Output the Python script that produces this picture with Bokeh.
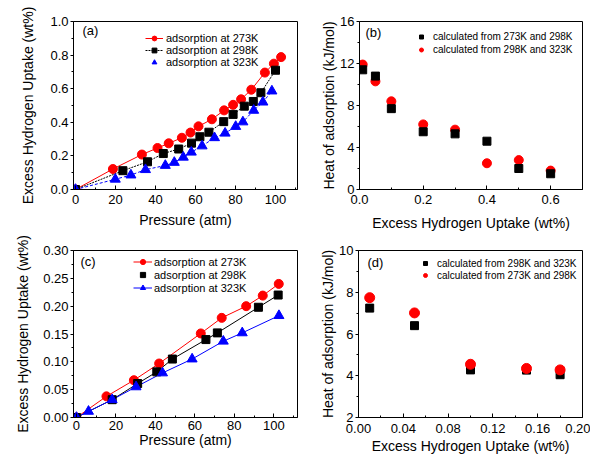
from bokeh.plotting import figure
from bokeh.models import Range1d, FixedTicker, Legend, LegendItem, Label, PrintfTickFormatter
from bokeh.layouts import column, row
from bokeh.embed import file_html
from bokeh.resources import INLINE

FONT = "Liberation Sans"
RED = "#ff0000"
BLUE = "#0000ff"

# ---------------- data ----------------
# (a) isotherms, sample 1
a_p273 = [0, 18.7, 33.2, 41.0, 46.6, 53.2, 57.5, 61.5, 68.2, 74.3, 78.8, 82.8, 87.9, 94.7, 99.2, 102.8]
a_u273 = [0, 0.122, 0.208, 0.247, 0.275, 0.308, 0.339, 0.376, 0.418, 0.471, 0.504, 0.537, 0.594, 0.696, 0.749, 0.788]
a_p298 = [0, 23.7, 36.0, 43.9, 51.6, 58.0, 62.2, 66.7, 74.1, 78.8, 84.4, 88.9, 92.7, 100.0]
a_u298 = [0, 0.112, 0.165, 0.214, 0.241, 0.276, 0.314, 0.341, 0.404, 0.447, 0.496, 0.524, 0.576, 0.710]
a_p323 = [0, 19.9, 27.7, 35.0, 44.9, 49.4, 53.9, 57.9, 63.3, 69.5, 74.8, 80.1, 83.7, 89.1, 93.7, 98.2]
a_u323 = [0, 0.061, 0.086, 0.118, 0.143, 0.161, 0.192, 0.222, 0.259, 0.308, 0.335, 0.375, 0.402, 0.471, 0.520, 0.586]

# (b) heat of adsorption, sample 1
b_uptake = [0.01, 0.05, 0.10, 0.20, 0.30, 0.40, 0.50, 0.60]
b_q_273_298 = [11.4, 10.8, 7.7, 5.5, 5.3, 4.6, 2.0, 1.5]
b_q_298_323 = [11.9, 10.3, 8.4, 6.2, 5.7, 2.5, 2.8, 1.8]

# (c) isotherms, sample 2
c_p273 = [0, 15.2, 29.1, 41.9, 63.0, 73.6, 86.0, 94.4, 102.5]
c_u273 = [0, 0.038, 0.067, 0.097, 0.151, 0.179, 0.200, 0.219, 0.240]
c_p298 = [0, 18.1, 31.0, 40.7, 48.6, 65.6, 71.4, 92.2, 102.2]
c_u298 = [0, 0.032, 0.061, 0.082, 0.105, 0.140, 0.152, 0.198, 0.220]
c_p323 = [0, 6.1, 18.1, 30.2, 43.6, 58.6, 74.4, 84.0, 102.6]
c_u323 = [0, 0.011, 0.032, 0.055, 0.080, 0.105, 0.137, 0.152, 0.183]

# (d) heat of adsorption, sample 2
d_uptake = [0.01, 0.05, 0.10, 0.15, 0.18]
d_q_298_323 = [7.24, 6.40, 4.28, 4.27, 4.05]
d_q_273_298 = [7.74, 7.01, 4.55, 4.35, 4.28]

iso_labels = ["adsorption at 273K", "adsorption at 298K", "adsorption at 323K"]
lab_273_298 = "calculated from 273K and 298K"
lab_298_323 = "calculated from 298K and 323K"
x_iso = "Pressure (atm)"
y_iso = "Excess Hydrogen Uptake (wt%)"
x_heat = "Excess Hydrogen Uptake (wt%)"
y_heat = "Heat of adsorption (kJ/mol)"


def make_fig(width, height, xr, yr, borders, xticks, xminor, yticks, yminor,
             xstand, xlstand, ylstand, xfmt=None, yfmt=None):
    l, r, t, b = borders
    p = figure(width=width, height=height, x_range=Range1d(*xr), y_range=Range1d(*yr),
               output_backend="svg", toolbar_location=None,
               min_border_left=l, min_border_right=r, min_border_top=t, min_border_bottom=b)
    p.grid.visible = False
    p.outline_line_color = "black"
    p.outline_line_alpha = 1
    p.outline_line_width = 1
    p.background_fill_color = "white"
    p.border_fill_color = "white"
    p.xaxis.ticker = FixedTicker(ticks=xticks, minor_ticks=xminor)
    p.yaxis.ticker = FixedTicker(ticks=yticks, minor_ticks=yminor)
    if xfmt:
        p.xaxis.formatter = PrintfTickFormatter(format=xfmt)
    if yfmt:
        p.yaxis.formatter = PrintfTickFormatter(format=yfmt)
    for ax in p.axis:
        ax.axis_line_color = "black"
        ax.major_tick_line_color = "black"
        ax.minor_tick_line_color = "black"
        ax.major_label_text_font = FONT
        ax.major_label_text_font_size = "13px"
        ax.major_label_text_color = "black"
        ax.axis_label_text_font = FONT
        ax.axis_label_text_font_size = "14px"
        ax.axis_label_text_font_style = "normal"
        ax.axis_label_text_color = "black"
    xa = p.xaxis[0]
    xa.major_tick_in = 4
    xa.major_tick_out = 0
    xa.minor_tick_in = 2
    xa.minor_tick_out = 0
    xa.major_label_standoff = xstand
    xa.axis_label_standoff = xlstand
    ya = p.yaxis[0]
    ya.major_tick_in = 0
    ya.major_tick_out = 3
    ya.minor_tick_in = 0
    ya.minor_tick_out = 2
    ya.major_label_standoff = 2
    ya.axis_label_standoff = ylstand
    return p


def add_legend(p, items, loc, font_size, row_h, glyph_w, standoff):
    leg = Legend(items=items, location=loc, padding=0, spacing=0, margin=0,
                 label_standoff=standoff, glyph_width=glyph_w, glyph_height=row_h,
                 label_height=row_h, label_text_font=FONT, label_text_font_size=font_size,
                 label_text_color="black", border_line_alpha=0, background_fill_alpha=0)
    p.add_layout(leg)


def add_tag(p, text, x, y):
    p.add_layout(Label(x=x, y=y, x_units="screen", y_units="screen", text=text,
                       text_font=FONT, text_font_size="13px", text_color="black",
                       text_baseline="middle"))


# ---------------- (a) ----------------
pa = make_fig(298, 236, (-1, 111), (0, 1.0), (73, 1, 21, 44),
              [0, 20, 40, 60, 80, 100], [10, 30, 50, 70, 90, 110],
              [0, 0.2, 0.4, 0.6, 0.8, 1.0], [0.1, 0.3, 0.5, 0.7, 0.9],
              5, 5, 11, yfmt="%.1f")
pa.xaxis.axis_label = x_iso
pa.yaxis.axis_label = y_iso
la1 = pa.line(a_p273, a_u273, line_color=RED, line_width=1)
la2 = pa.line(a_p298, a_u298, line_color="black", line_width=1, line_dash="2 1")
la3 = pa.line(a_p323, a_u323, line_color=BLUE, line_width=1, line_dash="3 2")
sa1 = pa.scatter(a_p273, a_u273, marker="circle", size=9, fill_color=RED, line_color=RED)
sa2 = pa.scatter(a_p298, a_u298, marker="square", size=8, fill_color="black", line_color="black")
sa3 = pa.scatter(a_p323, a_u323, marker="triangle", size=10, fill_color=BLUE, line_color=BLUE)
add_legend(pa, [LegendItem(label=iso_labels[0], renderers=[la1, sa1]),
                LegendItem(label=iso_labels[1], renderers=[la2, sa2]),
                LegendItem(label=iso_labels[2], renderers=[sa3])],
           (72, 121), "11px", 12, 18, 3)
add_tag(pa, "(a)", 9, 159)

# ---------------- (b) ----------------
pb = make_fig(292, 236, (0, 0.7), (0, 16), (61, 8, 17, 47),
              [0, 0.2, 0.4, 0.6], [0.1, 0.3, 0.5, 0.7],
              [0, 4, 8, 12, 16], [2, 6, 10, 14],
              5, 8, 0, xfmt="%.1f")
pb.xaxis.axis_label = x_heat
pb.yaxis.axis_label = y_heat
sb2 = pb.scatter(b_uptake, b_q_298_323, marker="circle", size=9, fill_color=RED, line_color=RED)
sb1 = pb.scatter(b_uptake, b_q_273_298, marker="square", size=8, fill_color="black", line_color="black")
add_legend(pb, [LegendItem(label=lab_273_298, renderers=[sb1]),
                LegendItem(label=lab_298_323, renderers=[sb2])],
           (57, 133), "10px", 13, 10, 7)
add_tag(pb, "(b)", 6, 157)

# ---------------- (c) ----------------
pc = make_fig(298, 220, (-1.5, 112), (0, 0.30), (73, 1, 14, 38),
              [0, 20, 40, 60, 80, 100], [10, 30, 50, 70, 90, 110],
              [0, 0.05, 0.10, 0.15, 0.20, 0.25, 0.30],
              [0.025, 0.075, 0.125, 0.175, 0.225, 0.275],
              3, -1, 9, yfmt="%.2f")
pc.xaxis.axis_label = x_iso
pc.yaxis.axis_label = y_iso
lc1 = pc.line(c_p273, c_u273, line_color=RED, line_width=1)
lc2 = pc.line(c_p298, c_u298, line_color="black", line_width=1)
lc3 = pc.line(c_p323, c_u323, line_color=BLUE, line_width=1)
sc1 = pc.scatter(c_p273, c_u273, marker="circle", size=9, fill_color=RED, line_color=RED)
sc2 = pc.scatter(c_p298, c_u298, marker="square", size=8, fill_color="black", line_color="black")
sc3 = pc.scatter(c_p323, c_u323, marker="triangle", size=10, fill_color=BLUE, line_color=BLUE)
add_legend(pc, [LegendItem(label=iso_labels[0], renderers=[lc1, sc1]),
                LegendItem(label=iso_labels[1], renderers=[sc2]),
                LegendItem(label=iso_labels[2], renderers=[lc3, sc3])],
           (60, 123), "11px", 13, 19, 2)
add_tag(pc, "(c)", 7, 156)

# ---------------- (d) ----------------
pd_ = make_fig(292, 220, (0, 0.20), (2, 10), (60, 8, 13, 37),
               [0, 0.04, 0.08, 0.12, 0.16, 0.20], [0.02, 0.06, 0.10, 0.14, 0.18],
               [2, 4, 6, 8, 10], [3, 5, 7, 9],
               6, 2, 0, xfmt="%.2f")
pd_.xaxis.axis_label = x_heat
pd_.yaxis.axis_label = y_heat
sd1 = pd_.scatter(d_uptake, d_q_298_323, marker="square", size=8, fill_color="black", line_color="black")
sd2 = pd_.scatter(d_uptake, d_q_273_298, marker="circle", size=10, fill_color=RED, line_color=RED)
add_legend(pd_, [LegendItem(label=lab_298_323, renderers=[sd1]),
                 LegendItem(label=lab_273_298, renderers=[sd2])],
           (62, 136), "10px", 12, 10, 7)
add_tag(pd_, "(d)", 9, 155)

layout = column(row(pa, pb), row(pc, pd_))
open("out.html", "w").write(file_html(layout, INLINE))
